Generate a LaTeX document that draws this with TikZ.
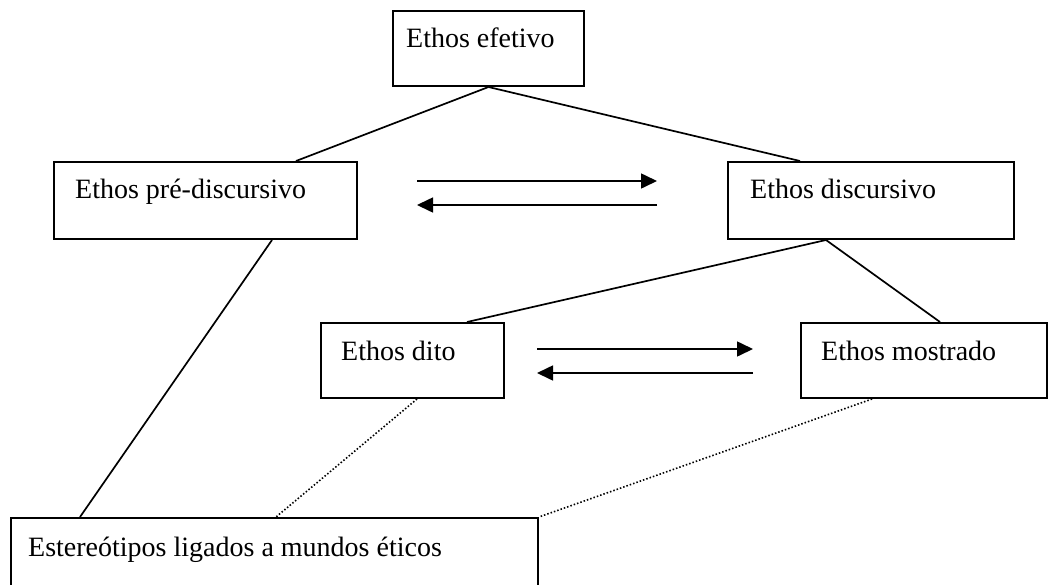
\documentclass[tikz,border=0pt]{standalone}
\usepackage{fontspec}
\setmainfont{Liberation Serif}
\usetikzlibrary{arrows.meta,calc}
\begin{document}
\begin{tikzpicture}[x=1pt,y=-1pt,
  box/.style={draw, line width=2pt, rectangle, inner sep=0pt, anchor=north west},
  lbl/.style={anchor=base west, inner sep=0pt, font=\fontsize{28}{33}\selectfont},
  link/.style={line width=1.7pt},
  dots/.style={line width=1.6pt, dash pattern=on 1.5pt off 2pt},
  arr/.style={line width=1.6pt, -{Triangle[length=16pt,width=15pt]}}]
\useasboundingbox (0,0) rectangle (1052,584);
% boxes
\node[box, minimum width=191pt, minimum height=75pt] (efe) at (392,10) {};
\node[box, minimum width=303pt, minimum height=77pt] (pre) at (53,161) {};
\node[box, minimum width=286pt, minimum height=77pt] (dis) at (727,161) {};
\node[box, minimum width=183pt, minimum height=75pt] (dito) at (320,322) {};
\node[box, minimum width=246pt, minimum height=75pt] (mos) at (800,322) {};
\node[box, minimum width=527pt, minimum height=90pt] (est) at (10,517) {};
% labels
\node[lbl] (tefe) at (406,47) {Ethos efetivo};
\node[lbl] (tpre) at (75,198) {Ethos pré-discursivo};
\node[lbl] (tdis) at (750,198) {Ethos discursivo};
\node[lbl] (tdito) at (341,360) {Ethos dito};
\node[lbl] (tmos) at (821,360) {Ethos mostrado};
\node[lbl] (test) at (28,556) {Estereótipos ligados a mundos éticos};
% attachment points
\coordinate (efeB) at (efe.south);
\coordinate (preT) at ([xshift=243pt]pre.north west);
\coordinate (preB) at ([xshift=219pt]pre.south west);
\coordinate (disT) at ([xshift=73pt]dis.north west);
\coordinate (disB) at ([xshift=99pt]dis.south west);
\coordinate (ditoT) at ([xshift=147pt]dito.north west);
\coordinate (ditoB) at ([xshift=97pt]dito.south west);
\coordinate (mosT) at ([xshift=140pt]mos.north west);
\coordinate (mosB) at ([xshift=72pt]mos.south west);
\coordinate (estA) at ([xshift=70pt]est.north west);
\coordinate (estB) at ([xshift=266pt]est.north west);
\coordinate (estC) at (est.north east);
% tree lines
\draw[link] (efeB) -- (preT);
\draw[link] (efeB) -- (disT);
\draw[link] (disB) -- (ditoT);
\draw[link] (disB) -- (mosT);
\draw[link] (preB) -- (estA);
\draw[dots] (ditoB) -- (estB);
\draw[dots] (mosB) -- (estC);
% arrows
\coordinate (a1s) at (417,181); \coordinate (a1e) at (657,181);
\coordinate (a2s) at (657,205); \coordinate (a2e) at (417,205);
\coordinate (a3s) at (537,349); \coordinate (a3e) at (753,349);
\coordinate (a4s) at (753,373); \coordinate (a4e) at (537,373);
\draw[arr] (a1s) -- (a1e);
\draw[arr] (a2s) -- (a2e);
\draw[arr] (a3s) -- (a3e);
\draw[arr] (a4s) -- (a4e);
\end{tikzpicture}
\end{document}
